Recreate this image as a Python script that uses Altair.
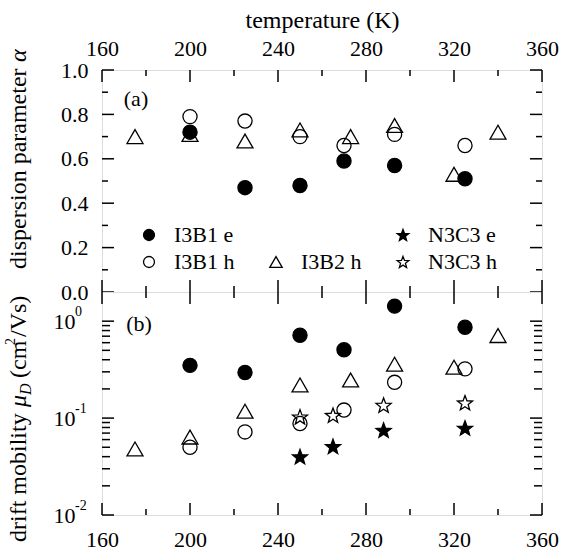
import math
import altair as alt
import pandas as pd

# ---------------- data ----------------
T_I3B1 = [200, 225, 250, 270, 293, 325]
alpha_I3B1_e = [0.72, 0.47, 0.48, 0.59, 0.57, 0.51]
alpha_I3B1_h = [0.79, 0.77, 0.70, 0.66, 0.71, 0.66]
mu_I3B1_e = [0.35, 0.295, 0.715, 0.507, 1.43, 0.866]
mu_I3B1_h = [0.050, 0.072, 0.088, 0.121, 0.234, 0.322]

T_I3B2 = [175, 200, 225, 250, 273, 293, 320, 340]
alpha_I3B2_h = [0.70, 0.71, 0.68, 0.73, 0.70, 0.75, 0.53, 0.72]
mu_I3B2_h = [0.048, 0.0637, 0.118, 0.22, 0.247, 0.36, 0.335, 0.71]

T_N3C3 = [250, 265, 288, 325]
mu_N3C3_e = [0.040, 0.051, 0.075, 0.079]
mu_N3C3_h = [0.103, 0.107, 0.136, 0.144]

x_major = [160, 200, 240, 280, 320, 360]
x_minor = [180, 220, 260, 300, 340]
a_major = [0.0, 0.2, 0.4, 0.6, 0.8, 1.0]
a_minor = [0.1, 0.3, 0.5, 0.7, 0.9]
mu_major = [0.01, 0.1, 1.0]
mu_exponent = ["-2", "-1", "0"]
mu_minor = [0.02, 0.03, 0.04, 0.05, 0.06, 0.07, 0.08, 0.09,
            0.2, 0.3, 0.4, 0.5, 0.6, 0.7, 0.8, 0.9]

SERIES = ["I3B1 e", " ", "N3C3 e", "I3B1 h", "I3B2 h", "N3C3 h"]

# ---------------- styling ----------------
FONT = "'Liberation Serif', 'Times New Roman', 'DejaVu Serif', serif"
W, H1, H2 = 440, 222, 223
TICK_MAJ, TICK_MIN = 12, 6
TF = 24  # title font size


def star_path(R=1.12, r=0.47):
    pts = []
    for k in range(10):
        ang = math.radians(-90 + k * 36)
        rad = R if k % 2 == 0 else r
        pts.append((rad * math.cos(ang), rad * math.sin(ang) + 0.1))
    return "M" + "L".join(f"{x:.3f},{y:.3f}" for x, y in pts) + "Z"


STAR = star_path()
CIRCLE = "M1,0A1,1,0,1,1,-1,0A1,1,0,1,1,1,0Z"
TRI = "M-1.13,0.98L1.13,0.98L0,-0.98Z"
BLANK = "M0,0"
SHAPES = [CIRCLE, BLANK, STAR, CIRCLE, TRI, STAR]
FILLS = ["black", "transparent", "black", "transparent", "transparent", "transparent"]
STROKES = ["black"] * len(SERIES)

top_df = pd.DataFrame({
    "T": T_I3B1 + T_I3B1 + T_I3B2,
    "v": alpha_I3B1_e + alpha_I3B1_h + alpha_I3B2_h,
    "series": ["I3B1 e"] * len(T_I3B1) + ["I3B1 h"] * len(T_I3B1) + ["I3B2 h"] * len(T_I3B2),
})
bot_df = pd.DataFrame({
    "T": T_I3B1 + T_I3B1 + T_I3B2 + T_N3C3 + T_N3C3,
    "v": mu_I3B1_e + mu_I3B1_h + mu_I3B2_h + mu_N3C3_e + mu_N3C3_h,
    "series": ["I3B1 e"] * len(T_I3B1) + ["I3B1 h"] * len(T_I3B1) + ["I3B2 h"] * len(T_I3B2)
              + ["N3C3 e"] * len(T_N3C3) + ["N3C3 h"] * len(T_N3C3),
})

xscale = alt.Scale(domain=[160, 360], nice=False, zero=False)
yscale_top = alt.Scale(domain=[0, 1], nice=False, zero=False)
yscale_bot = alt.Scale(type="log", domain=[0.01, 2], nice=False)

lab = dict(labelFont=FONT, labelFontSize=22, labelColor="black", ticks=False,
           domain=False, grid=False, labelFlush=False, labelOverlap=False, labelBound=False)

xaxis_top = alt.Axis(orient="top", values=x_major, format="d", title="temperature (K)",
                     titleFont=FONT, titleFontSize=TF, titleFontWeight="normal",
                     titleColor="black", titlePadding=5, labelPadding=10, **lab)
xaxis_bot = alt.Axis(orient="bottom", values=x_major, format="d", title=None,
                     labelPadding=14, **lab)
yaxis_top = alt.Axis(values=a_major, format=".1f", title=None, labelPadding=14, **lab)
yaxis_bot = alt.Axis(values=mu_major, title=None, labelPadding=27, labelExpr="'10'", **lab)

legend = alt.Legend(title=None, orient="none", legendX=36, legendY=154, columns=3,
                    direction="horizontal",
                    symbolSize=120, symbolStrokeColor="black", symbolStrokeWidth=1.3,
                    labelFont=FONT, labelFontSize=22, labelColor="black",
                    columnPadding=30, rowPadding=5, labelOffset=14, padding=0)


def points(df, yscale, xaxis, yaxis):
    return alt.Chart(df).mark_point(strokeWidth=1.3, opacity=1, size=200).encode(
        x=alt.X("T:Q", scale=xscale, axis=xaxis),
        y=alt.Y("v:Q", scale=yscale, axis=yaxis),
        shape=alt.Shape("series:N", scale=alt.Scale(domain=SERIES, range=SHAPES), legend=legend),
        fill=alt.Fill("series:N", scale=alt.Scale(domain=SERIES, range=FILLS), legend=legend),
        stroke=alt.Stroke("series:N", scale=alt.Scale(domain=SERIES, range=STROKES), legend=legend),
    )


def xticks(values, length, H, xaxis):
    df = pd.DataFrame({"t": values})
    base = alt.Chart(df).mark_rule(color="black", strokeWidth=1.5)
    enc_x = alt.X("t:Q", scale=xscale, axis=xaxis)
    top = base.encode(x=enc_x, y=alt.value(0), y2=alt.value(length))
    bot = base.encode(x=enc_x, y=alt.value(H - length), y2=alt.value(H))
    return [top, bot]


def yticks(values, length, yscale, yaxis):
    df = pd.DataFrame({"t": values})
    base = alt.Chart(df).mark_rule(color="black", strokeWidth=1.5)
    enc_y = alt.Y("t:Q", scale=yscale, axis=yaxis)
    left = base.encode(y=enc_y, x=alt.value(0), x2=alt.value(length))
    right = base.encode(y=enc_y, x=alt.value(W - length), x2=alt.value(W))
    return [left, right]


one = pd.DataFrame({"a": [0]})


def label(text, x, y, size=22, angle=0, align="center", style="normal", baseline="middle"):
    return alt.Chart(one).mark_text(text=text, font=FONT, fontSize=size, angle=angle,
                                    align=align, baseline=baseline, fontStyle=style,
                                    color="black").encode(x=alt.value(x), y=alt.value(y))


# superscript exponents of the log-axis labels, placed through the y scale
exp_layer = alt.Chart(pd.DataFrame({"t": mu_major, "e": mu_exponent})).mark_text(
    font=FONT, fontSize=14, align="left", baseline="middle", dy=-9, color="black"
).encode(y=alt.Y("t:Q", scale=yscale_bot, axis=yaxis_bot), x=alt.value(-27), text="e:N")

TX = -83  # horizontal position of the rotated y titles (relative to plot left)

top_layers = [points(top_df, yscale_top, xaxis_top, yaxis_top)]
top_layers += xticks(x_major, TICK_MAJ, H1, xaxis_top) + xticks(x_minor, TICK_MIN, H1, xaxis_top)
top_layers += yticks(a_major, TICK_MAJ, yscale_top, yaxis_top) + yticks(a_minor, TICK_MIN, yscale_top, yaxis_top)
top_layers += [label("(a)", 34, 29),
               label("dispersion parameter", TX, 199, size=TF, angle=270, align="left"),
               label("α", TX, -8, size=TF, angle=270, align="left", style="italic")]
top = alt.layer(*top_layers).properties(width=W, height=H1)

bot_layers = [points(bot_df, yscale_bot, xaxis_bot, yaxis_bot), exp_layer]
bot_layers += xticks(x_major, TICK_MAJ, H2, xaxis_bot) + xticks(x_minor, TICK_MIN, H2, xaxis_bot)
bot_layers += yticks(mu_major, TICK_MAJ, yscale_bot, yaxis_bot) + yticks(mu_minor, 8, yscale_bot, yaxis_bot)
bot_layers += [label("(b)", 37, 32),
               label("drift mobility", TX, 250, size=TF, angle=270, align="left"),
               label("μ", TX, 115, size=TF, angle=270, align="left", style="italic"),
               label("D", TX + 7, 103, size=16, angle=270, align="left", style="italic"),
               label("(cm", TX, 86, size=TF, angle=270, align="left"),
               label("2", TX - 8, 53, size=14, angle=270, align="left"),
               label("/Vs)", TX, 45, size=TF, angle=270, align="left")]
bottom = alt.layer(*bot_layers).properties(width=W, height=H2)

chart = (
    alt.vconcat(top, bottom, spacing=0, bounds="flush")
    .configure_view(stroke="black", strokeWidth=2)
    .configure(font=FONT)
    .properties(padding={"left": 3, "top": 7, "right": 5, "bottom": 5})
)

chart.save("out.html", embed_options={"renderer": "svg", "actions": False})
